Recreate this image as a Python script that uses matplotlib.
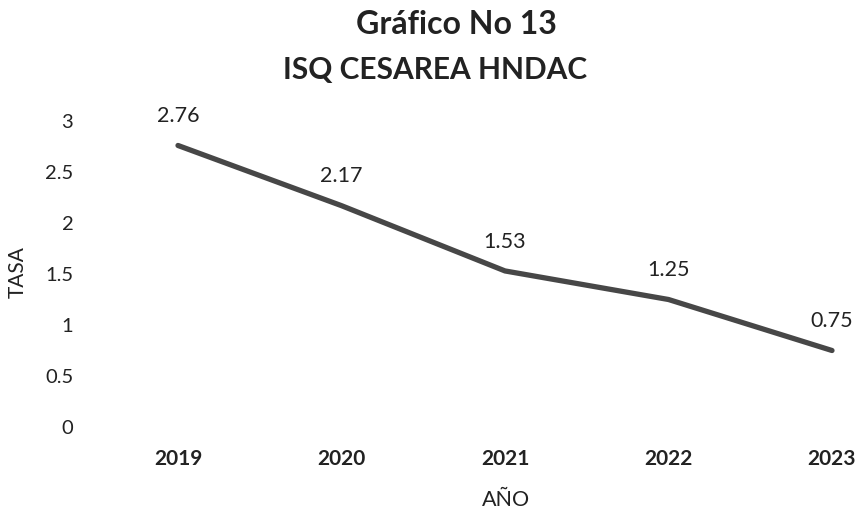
import matplotlib
matplotlib.use('Agg')
import matplotlib.pyplot as plt

plt.rcParams['font.family'] = ['Lato', 'DejaVu Sans']

years = ['2019', '2020', '2021', '2022', '2023']
tasa = [2.76, 2.17, 1.53, 1.25, 0.75]
yticks = [0, 0.5, 1, 1.5, 2, 2.5, 3]

fig = plt.figure(figsize=(8.57, 5.11), dpi=100)
W, H = 857, 511
ink = '#222222'

# plot area placed in pixel terms
left, right, top, bottom = 90, 850, 121, 427
ax = fig.add_axes([left / W, 1 - bottom / H, (right - left) / W, (bottom - top) / H])

x = list(range(len(years)))
ax.plot(x, tasa, color='#474747', linewidth=3.8, solid_capstyle='round')

for xi, v in zip(x, tasa):
    ax.annotate(f'{v:.2f}', (xi, v), xytext=(0, 21), textcoords='offset points',
                ha='center', va='center', fontsize=15.5, color=ink)

x0, step = 178, 163.5
ax.set_xlim(-(x0 - left) / step, (right - x0) / step)
ax.set_ylim(0, 3)
ax.set_xticks(x, years, fontsize=15, fontweight='bold', color=ink)
ax.set_yticks(yticks, [f'{t:g}' for t in yticks], fontsize=14.5, color=ink)
ax.tick_params(axis='x', length=0, pad=16)
ax.tick_params(axis='y', length=0, pad=12)
for s in ax.spines.values():
    s.set_visible(False)

ax.set_xlabel('AÑO', fontsize=15.5, color=ink, va='center')
ax.xaxis.set_label_coords((506 - left) / (right - left), -(500 - bottom) / (bottom - top))
ax.set_ylabel('TASA', fontsize=15, color=ink, va='center')
ax.yaxis.set_label_coords(-(left - 18) / (right - left), (bottom - 272) / (bottom - top))

fig.text(456 / W, 1 - 24 / H, 'Gráfico No 13', ha='center', va='center',
         fontsize=23, fontweight='bold', color=ink)
fig.text(435 / W, 1 - 70 / H, 'ISQ CESAREA HNDAC', ha='center', va='center',
         fontsize=21.5, fontweight='bold', color=ink)

fig.savefig('out.png', dpi=100)
